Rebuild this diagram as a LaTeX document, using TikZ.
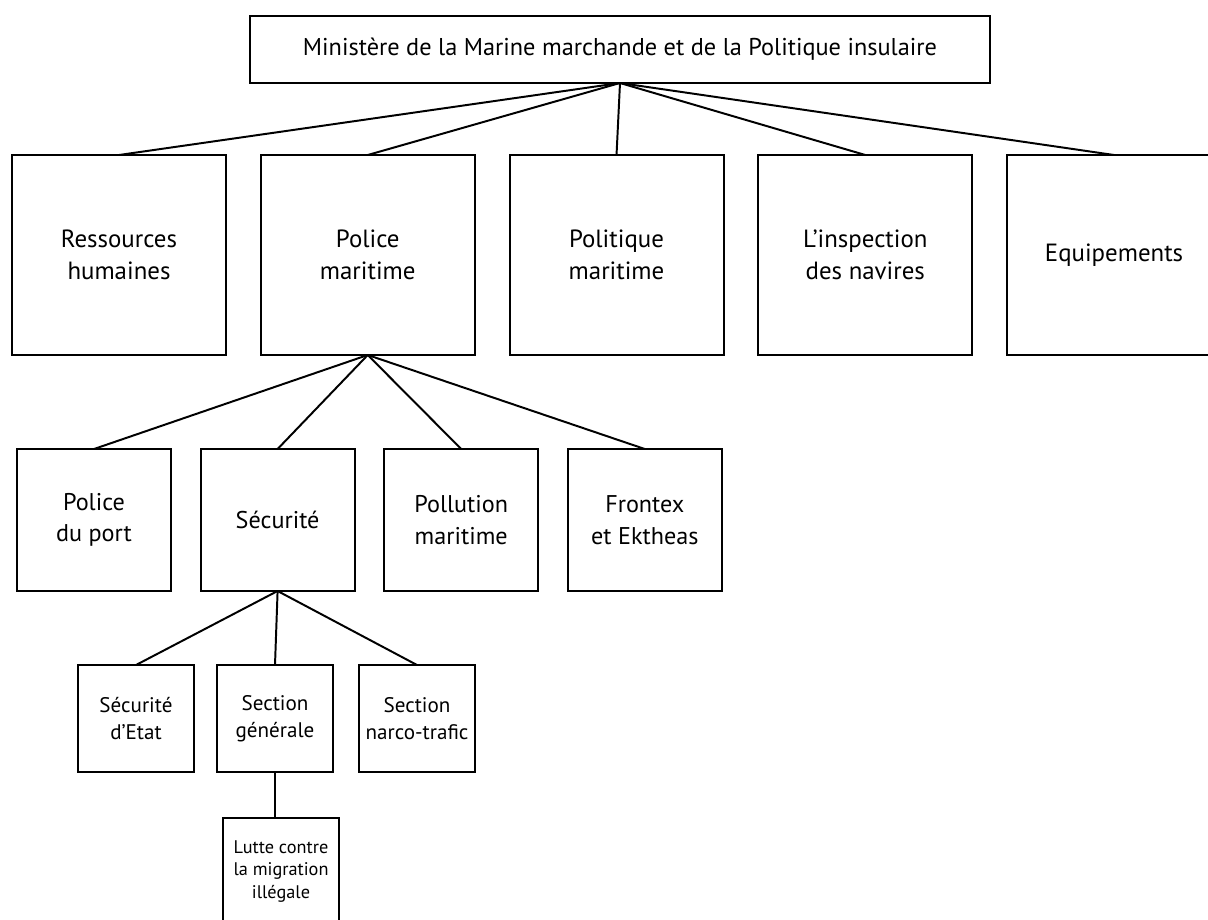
\documentclass[tikz,border=0pt]{standalone}
\usepackage{fontspec}
\setmainfont{PT Sans}
\usetikzlibrary{positioning}

\begin{document}
\begin{tikzpicture}[
  box/.style={rectangle, draw, line width=1.4pt, outer sep=0pt, align=center, inner sep=2pt},
  head/.style={box, minimum width=18.5cm, minimum height=1.675cm, font=\fontsize{17.3}{21}\selectfont},
  unit/.style={box, minimum width=5.35cm, minimum height=5cm, font=\fontsize{17.7}{23}\selectfont},
  sub/.style={box, minimum width=3.85cm, minimum height=3.55cm, font=\fontsize{17.2}{22.5}\selectfont},
  leaf/.style={box, minimum width=2.9cm, minimum height=2.675cm, font=\fontsize{15}{19}\selectfont},
  tiny/.style={box, minimum width=2.9cm, minimum height=2.675cm, font=\fontsize{13}{16}\selectfont},
  link/.style={line width=1.4pt},
  node distance=0.869cm
]
\useasboundingbox (0,0) rectangle (30.2,-22.975);

\node[head] (min) at (15.5,-1.2375) {Ministère de la Marine marchande et de la Politique insulaire};

% directions
\node[unit, anchor=north west] (rh) at (0.3,-3.875) {Ressources\\humaines};
\node[unit, right=of rh] (pm) {Police\\maritime};
\node[unit, right=of pm] (pol) {Politique\\maritime};
\node[unit, right=of pol] (insp) {L’inspection\\des navires};
\node[unit, right=of insp] (equip) {Equipements};

% police maritime
\node[sub, anchor=north west] (port) at (0.425,-11.225) {Police\\du port};
\node[sub, right=0.74cm of port] (secu) {Sécurité};
\node[sub, right=0.74cm of secu] (pollu) {Pollution\\maritime};
\node[sub, right=0.74cm of pollu] (frontex) {Frontex\\et Ektheas};

% securite
\node[leaf, anchor=north west] (etat) at (1.95,-16.625) {Sécurité\\d’Etat};
\node[leaf, right=0.575cm of etat] (gen) {Section\\générale};
\node[leaf, right=0.65cm of gen] (narco) {Section\\narco-trafic};
\node[tiny, below=1.15cm of gen, xshift=0.15cm] (lutte) {Lutte contre\\la migration\\illégale};

\foreach \n in {rh,pm,pol,insp,equip}
  \draw[link] (min.south) -- (\n.north);
\foreach \n in {port,secu,pollu,frontex}
  \draw[link] (pm.south) -- (\n.north);
\foreach \n in {etat,gen,narco}
  \draw[link] (secu.south) -- (\n.north);
\draw[link] (gen.south) -- (gen.south |- lutte.north);

\end{tikzpicture}
\end{document}
